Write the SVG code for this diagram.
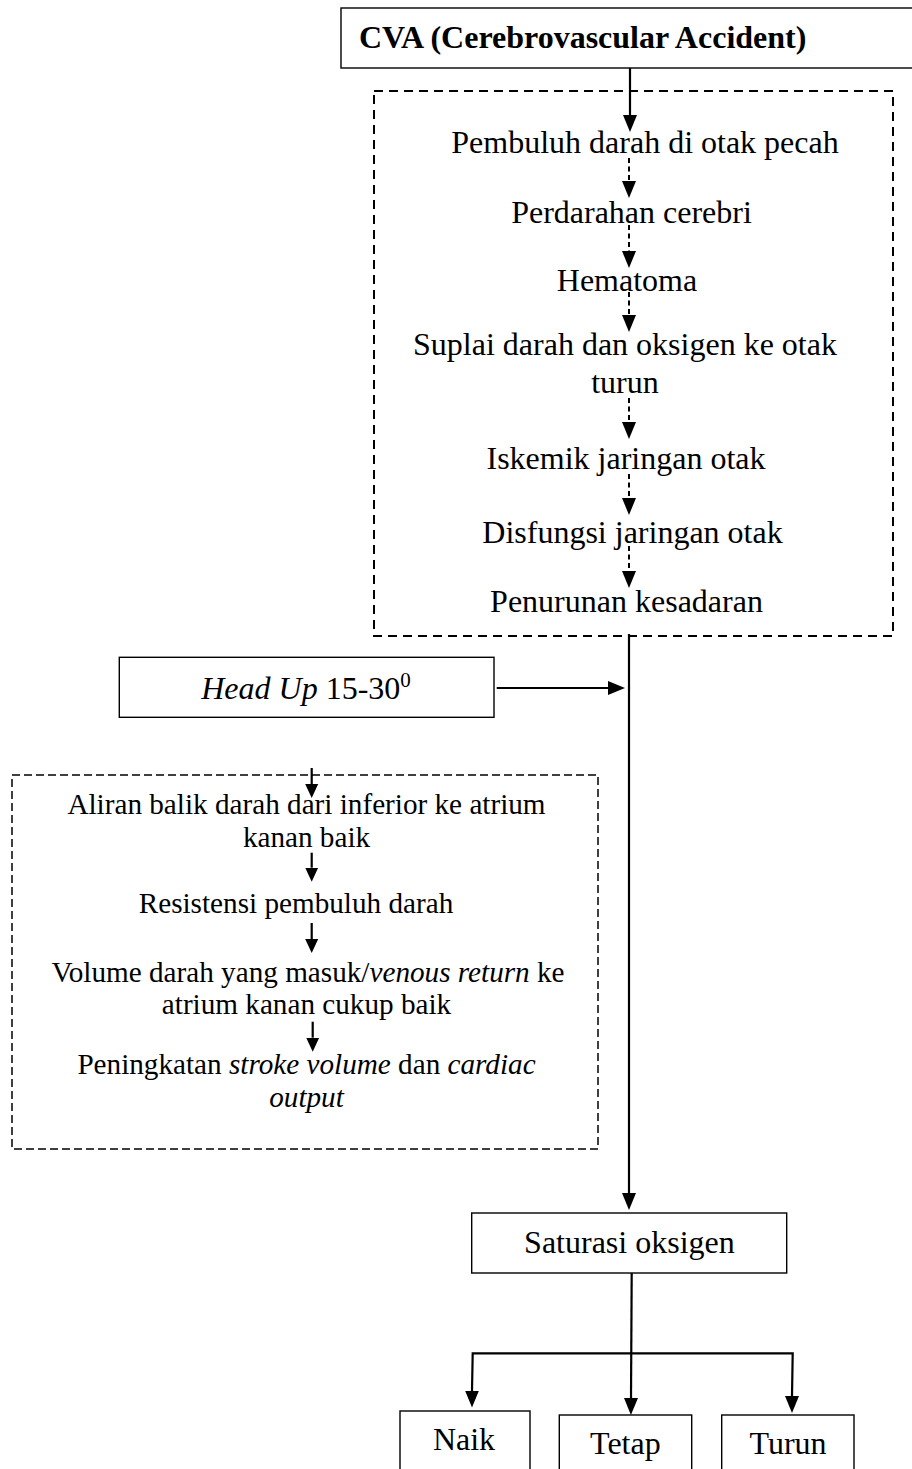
<svg xmlns="http://www.w3.org/2000/svg" width="912" height="1469" viewBox="0 0 912 1469">
  <style>
    .box { fill: #fff; stroke: #000; stroke-width: 1.4; }
    .dash1 { fill: none; stroke: #000; stroke-width: 2; stroke-dasharray: 9 6; }
    .dash2 { fill: none; stroke: #000; stroke-width: 1.5; stroke-dasharray: 8 4; }
    .t { font-family: "Liberation Serif", "Times New Roman", serif; font-size: 32px; fill: #000; text-anchor: middle; }
    .tb { font-family: "Liberation Serif", "Times New Roman", serif; font-size: 32px; font-weight: bold; fill: #000; }
    .ts { font-family: "Liberation Serif", "Times New Roman", serif; font-size: 29.2px; fill: #000; text-anchor: middle; }
    .i { font-style: italic; }
    .ln { fill: none; stroke: #000; stroke-width: 2.2; }
    .dl { fill: none; stroke: #000; stroke-width: 2; stroke-dasharray: 5 3.5; }
  </style>
  <defs>
    <marker id="ah" markerUnits="userSpaceOnUse" markerWidth="18" markerHeight="16" viewBox="0 -8 18 16" refX="0" refY="0" orient="auto">
      <path d="M0,-7 L17,0 L0,7 z" fill="#000"/>
    </marker>
    <marker id="ah2" markerUnits="userSpaceOnUse" markerWidth="16" markerHeight="16" viewBox="0 -8 16 16" refX="0" refY="0" orient="auto">
      <path d="M0,-6.5 L14,0 L0,6.5 z" fill="#000"/>
    </marker>
  </defs>

  <g id="cva">
    <rect class="box" x="341" y="8" width="590" height="60"/>
    <text class="tb" x="359" y="48">CVA (Cerebrovascular Accident)</text>
  </g>

  <g id="group-patofisiologi">
    <rect class="dash1" x="374" y="91" width="519" height="545"/>
  </g>
  <g id="n-pembuluh"><text class="t" x="645" y="152.6">Pembuluh darah di otak pecah</text></g>
  <g id="n-perdarahan"><text class="t" x="631.5" y="223">Perdarahan cerebri</text></g>
  <g id="n-hematoma"><text class="t" x="627" y="291">Hematoma</text></g>
  <g id="n-suplai">
    <text class="t" x="625" y="355">Suplai darah dan oksigen ke otak</text>
    <text class="t" x="625" y="393">turun</text>
  </g>
  <g id="n-iskemik"><text class="t" x="626" y="469">Iskemik jaringan otak</text></g>
  <g id="n-disfungsi"><text class="t" x="632.5" y="543">Disfungsi jaringan otak</text></g>
  <g id="n-penurunan"><text class="t" x="626.5" y="612">Penurunan kesadaran</text></g>

  <g id="headup">
    <rect class="box" x="119.3" y="657.3" width="374.7" height="60"/>
    <text class="t" x="306" y="699.3"><tspan class="i">Head Up</tspan> 15-30<tspan font-size="21" dy="-12">0</tspan></text>
  </g>

  <g id="group-mekanisme">
    <rect class="dash2" x="12" y="775" width="586" height="374"/>
  </g>
  <g id="n-aliran">
    <text class="ts" x="306.5" y="814">Aliran balik darah dari inferior ke atrium</text>
    <text class="ts" x="306.5" y="847">kanan baik</text>
  </g>
  <g id="n-resistensi"><text class="ts" x="296" y="913">Resistensi pembuluh darah</text></g>
  <g id="n-volume">
    <text class="ts" x="308" y="982">Volume darah yang masuk/<tspan class="i">venous return</tspan> ke</text>
    <text class="ts" x="306.5" y="1014">atrium kanan cukup baik</text>
  </g>
  <g id="n-peningkatan">
    <text class="ts" x="306.5" y="1074">Peningkatan <tspan class="i">stroke volume</tspan> dan <tspan class="i">cardiac</tspan></text>
    <text class="ts i" x="306.5" y="1107">output</text>
  </g>

  <g id="saturasi">
    <rect class="box" x="471.7" y="1213" width="315" height="60"/>
    <text class="t" x="629.4" y="1253">Saturasi oksigen</text>
  </g>
  <g id="naik">
    <rect class="box" x="400" y="1411" width="130" height="80"/>
    <text class="t" x="464" y="1450">Naik</text>
  </g>
  <g id="tetap">
    <rect class="box" x="559.3" y="1415" width="132.4" height="80"/>
    <text class="t" x="625.4" y="1454">Tetap</text>
  </g>
  <g id="turun">
    <rect class="box" x="721.7" y="1415" width="132.3" height="80"/>
    <text class="t" x="788" y="1454">Turun</text>
  </g>

  <g id="connectors">
    <line class="ln" x1="630" y1="68" x2="630" y2="115" marker-end="url(#ah)"/>
    <line class="dl" x1="629" y1="158" x2="629" y2="181" marker-end="url(#ah)"/>
    <line class="dl" x1="629" y1="225" x2="629" y2="251" marker-end="url(#ah)"/>
    <line class="dl" x1="629" y1="292" x2="629" y2="315" marker-end="url(#ah)"/>
    <line class="dl" x1="629" y1="398" x2="629" y2="422" marker-end="url(#ah)"/>
    <line class="dl" x1="629" y1="474" x2="629" y2="498" marker-end="url(#ah)"/>
    <line class="dl" x1="629" y1="546" x2="629" y2="571" marker-end="url(#ah)"/>
    <line class="ln" x1="629" y1="634" x2="629" y2="1193" marker-end="url(#ah)"/>
    <line class="ln" x1="496.7" y1="688" x2="608" y2="688" marker-end="url(#ah)"/>
    <line class="ln" x1="311.7" y1="768" x2="311.7" y2="784" marker-end="url(#ah2)"/>
    <line class="ln" x1="311.7" y1="852.7" x2="311.7" y2="867.7" marker-end="url(#ah2)"/>
    <line class="ln" x1="311.7" y1="923" x2="311.7" y2="939" marker-end="url(#ah2)"/>
    <line class="ln" x1="312.7" y1="1021.7" x2="312.7" y2="1037.7" marker-end="url(#ah2)"/>
    <line class="ln" x1="631.7" y1="1273" x2="631" y2="1398" marker-end="url(#ah)"/>
    <polyline class="ln" points="472,1391 472.7,1353.3 792.7,1353.3 792,1396"/>
    <line class="ln" x1="472" y1="1390" x2="472" y2="1390.5" marker-end="url(#ah)"/>
    <line class="ln" x1="792" y1="1395.5" x2="792" y2="1396" marker-end="url(#ah)"/>
  </g>
</svg>
